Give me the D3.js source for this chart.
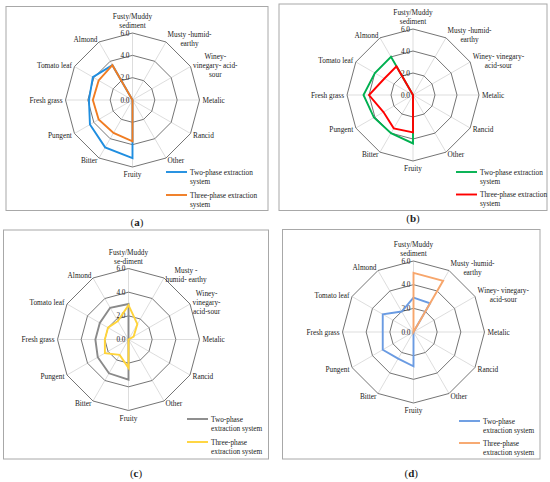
<!DOCTYPE html>
<html><head><meta charset="utf-8">
<script src="https://cdn.jsdelivr.net/npm/d3@7"></script>
<style>body{margin:0;background:#fff}svg{display:block}text{font-family:"Liberation Serif","Times New Roman",serif;fill:#222}</style>
</head><body>
<svg id="c" width="550" height="482"></svg>
<script>
// ---- data ----
const categories = ["Fusty/Muddy sediment","Musty -humid-earthy","Winey-vinegary-acid-sour","Metalic","Rancid","Other","Fruity","Bitter","Pungent","Fresh grass","Tomato leaf","Almond"];
const ticks = [0, 2, 4, 6];
const tickLabels = ["0.0", "2.0", "4.0", "6.0"];
const seriesNames = ["Two-phase extraction system", "Three-phase extraction system"];

const a_two   = [0, 0, 0, 0, 0, 0, 5.2, 4.9, 4.4, 3.9, 4.1, 3.6];
const a_three = [0, 0, 0, 0, 0, 0, 3.7, 3.4, 3.5, 3.55, 3.5, 3.6];
const b_two   = [0, 0, 0, 0, 0, 0, 4.4, 4.0, 4.1, 4.5, 4.0, 4.0];
const b_three = [0, 0, 0, 0, 0, 0, 3.4, 3.5, 3.1, 4.0, 3.0, 3.0];
const c_two   = [3.0, 0, 0, 0, 0, 0, 3.4, 3.3, 3.0, 2.8, 2.8, 3.1];
const c_three = [2.9, 1.5, 0.5, 0, 0, 0, 2.4, 1.5, 2.3, 2.0, 2.0, 1.8];
const d_two   = [2.9, 2.8, 0, 0, 0, 0, 2.9, 2.6, 3.0, 2.6, 3.0, 2.0];
const d_three = [5.0, 5.0, 0, 0, 0, 0, 0, 0, 0, 0, 0, 0];

// wrapped category labels as they appear in each panel
const labelsAB = [["Fusty/Muddy","sediment"],["Musty -humid-","earthy"],["Winey-","vinegary- acid-","sour"],["Metalic"],["Rancid"],["Other"],["Fruity"],["Bitter"],["Pungent"],["Fresh grass"],["Tomato leaf"],["Almond"]];
const labelsB = [["Fusty/Muddy","sediment"],["Musty -humid-","earthy"],["Winey- vinegary-","acid-sour"],["Metalic"],["Rancid"],["Other"],["Fruity"],["Bitter"],["Pungent"],["Fresh grass"],["Tomato leaf"],["Almond"]];
const labelsC = [["Fusty/Muddy","se-diment"],["Musty -","humid- earthy"],["Winey-","vinegary-","acid-sour"],["Metalic"],["Rancid"],["Other"],["Fruity"],["Bitter"],["Pungent"],["Fresh grass"],["Tomato leaf"],["Almond"]];
const legendLongAB = [["Two-phase extraction","system"],["Three-phase extraction","system"]];
const legendLongCD = [["Two-phase","extraction system"],["Three-phase","extraction system"]];

// ---- layout ----
const panels = [
  {tag:"a", frame:[6,6.5,268,210.5], cx:132.5, cy:100, R:67, labels:labelsAB, data:[a_two,a_three], colors:["#1f8ee0","#f07c22"], legend:{x:166,y:172,dy:23,lines:legendLongAB}, tagY:222},
  {tag:"b", frame:[279,4,547,210.5], cx:413, cy:95, R:66, labels:labelsB, data:[b_two,b_three], colors:["#00b050","#ff0000"], legend:{x:456,y:172,dy:22.5,lines:legendLongAB}, tagY:218},
  {tag:"c", frame:[3.5,230,268.5,459], cx:128.5, cy:339.5, R:71, labels:labelsC, data:[c_two,c_three], colors:["#8a8a8a","#ffd43a"], legend:{x:187,y:419,dy:23,lines:legendLongCD}, tagY:473},
  {tag:"d", frame:[282.5,229.5,540,459], cx:413.5, cy:332, R:71, labels:labelsB, data:[d_two,d_three], colors:["#6a9be2","#f7a66c"], legend:{x:459,y:421,dy:22,lines:legendLongCD}, tagY:473}
];

const svg = d3.select("#c");
const FS = 7.3, LH = 9;
const angle = d3.scaleLinear().domain([0, categories.length]).range([0, 2*Math.PI]);

panels.forEach(p => {
  const g = svg.append("g");
  const [x0,y0,x1,y1] = p.frame;
  g.append("rect").attr("x",x0).attr("y",y0).attr("width",x1-x0).attr("height",y1-y0)
    .attr("fill","none").attr("stroke","#a8a8a8").attr("stroke-width",1);
  const r = d3.scaleLinear().domain([0, 6]).range([0, p.R]);
  const c = g.append("g").attr("transform",`translate(${p.cx},${p.cy})`);
  const idx = d3.range(categories.length);
  const pt = (i, v) => [Math.sin(angle(i))*r(v), -Math.cos(angle(i))*r(v)];
  // spokes
  c.selectAll("line.spoke").data(idx).join("line")
    .attr("x1",0).attr("y1",0)
    .attr("x2",i=>pt(i,6)[0]).attr("y2",i=>pt(i,6)[1])
    .attr("stroke","#d4d4d4").attr("stroke-width",0.8);
  // rings
  const ring = d3.lineRadial().angle((d,i)=>angle(i)).radius(d=>r(d)).curve(d3.curveLinearClosed);
  c.selectAll("path.ring").data(ticks.filter(t=>t>0)).join("path")
    .attr("d", t => ring(idx.map(()=>t)))
    .attr("fill","none").attr("stroke","#757575").attr("stroke-width",1);
  // tick labels
  c.selectAll("text.tick").data(ticks).join("text")
    .attr("x",-3).attr("y",t=>-r(t)).attr("dy","0.35em")
    .attr("text-anchor","end").attr("font-size",FS).text((t,i)=>tickLabels[i]);
  // series
  const line = d3.lineRadial().angle((d,i)=>angle(i)).radius(d=>r(d)).curve(d3.curveLinearClosed);
  p.data.forEach((vals, k) => {
    c.append("path").attr("d", line(vals)).attr("fill","none")
      .attr("stroke", p.colors[k]).attr("stroke-width",1.9).attr("stroke-linejoin","miter");
  });
  // category labels
  idx.forEach(i => {
    const a = angle(i), s = Math.sin(a), co = -Math.cos(a);
    const px = s*(p.R+3), py = co*(p.R+3);
    const lines = p.labels[i];
    const t = c.append("text").attr("font-size",FS).attr("text-anchor","middle");
    const spans = lines.map(l => t.append("tspan").text(l));
    const wmax = d3.max(spans, sp => sp.node().getComputedTextLength());
    let xc = px, ytop;
    const hBlock = lines.length*LH;
    if (Math.abs(s) < 0.05) {
      ytop = co < 0 ? py - hBlock : py;
    } else {
      xc = s > 0 ? px + wmax/2 : px - wmax/2;
      ytop = py - hBlock/2;
    }
    spans.forEach((sp, j) => sp.attr("x", xc).attr("y", ytop + j*LH + LH/2).attr("dy","0.35em"));
  });
  // legend
  const L = p.legend;
  p.colors.forEach((col, k) => {
    const yy = L.y + k*L.dy;
    g.append("line").attr("x1",L.x).attr("x2",L.x+21).attr("y1",yy).attr("y2",yy)
      .attr("stroke",col).attr("stroke-width",1.9);
    const t = g.append("text").attr("font-size",FS).attr("title",seriesNames[k]);
    L.lines[k].forEach((l,j) => t.append("tspan").attr("x",L.x+24).attr("y",yy+j*LH).attr("dy","0.35em").text(l));
  });
  // panel tag
  const tg = svg.append("text").attr("x",(x0+x1)/2).attr("y",p.tagY).attr("dy","0.35em")
    .attr("text-anchor","middle").attr("font-size",11);
  tg.append("tspan").text("(");
  tg.append("tspan").attr("font-weight","bold").text(p.tag);
  tg.append("tspan").text(")");
});
</script>
</body></html>
